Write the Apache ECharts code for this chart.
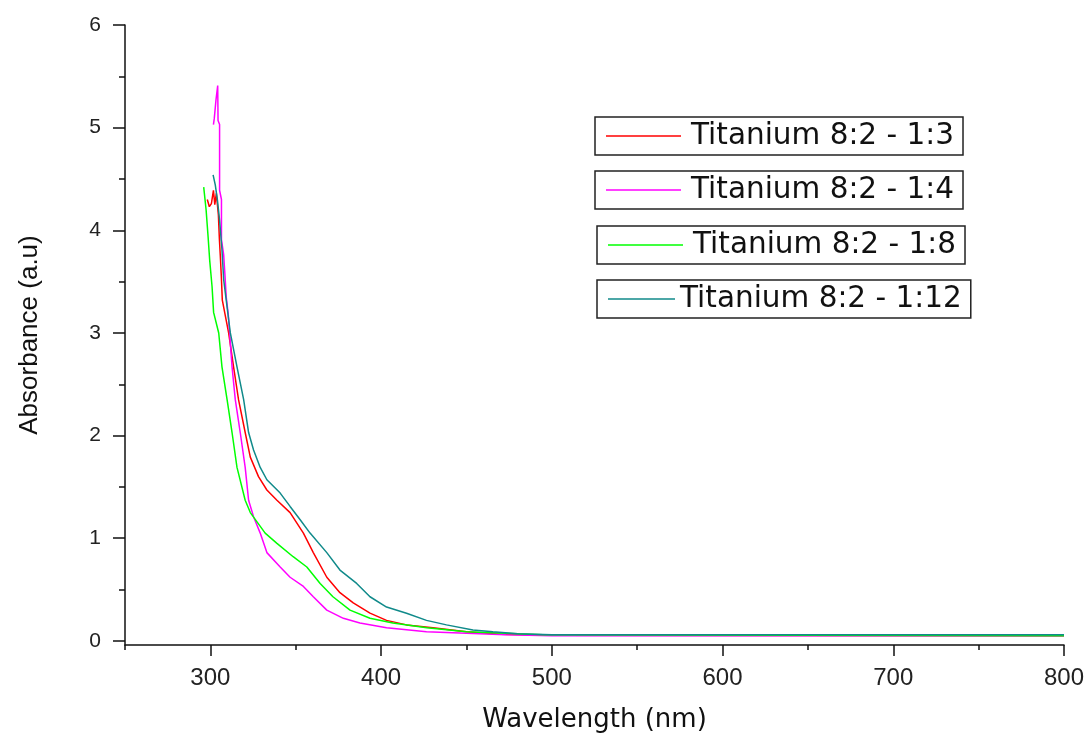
<!DOCTYPE html>
<html>
<head>
<meta charset="utf-8">
<script src="https://cdn.jsdelivr.net/npm/echarts@6/dist/echarts.min.js"></script>
<style>
  html, body { margin: 0; padding: 0; background: #fff; }
  #chart { width: 1087px; height: 738px; }
</style>
</head>
<body>
<div id="chart"></div>
<script>
// absorbance spectra
const seriesNames = ['Titanium 8:2 - 1:3', 'Titanium 8:2 - 1:4', 'Titanium 8:2 - 1:8', 'Titanium 8:2 - 1:12'];
const seriesColors = ['#ff0000', '#ff00ff', '#00ff00', '#108a8a'];

const wlRed = [298.2, 299.4, 300.6, 301.8, 302.6, 303.5, 304.7, 305.3, 305.8, 306.4, 307.0, 310.7, 313.6, 316.5, 320.4, 323.4, 328.2, 333.1, 339.0, 346.7, 354.5, 360.3, 368.2, 375.9, 383.7, 393.5, 403.2, 414.9, 430.4, 450, 470, 500, 800];
const absRed = [4.30, 4.23, 4.26, 4.39, 4.25, 4.36, 4.15, 3.91, 3.76, 3.56, 3.32, 3.00, 2.67, 2.35, 2.03, 1.79, 1.60, 1.47, 1.37, 1.25, 1.05, 0.86, 0.62, 0.47, 0.37, 0.27, 0.20, 0.156, 0.127, 0.088, 0.065, 0.055, 0.05];

const wlMagenta = [301.8, 302.3, 303.3, 304.3, 304.5, 305.4, 305.4, 306.5, 306.5, 307.8, 308.6, 309.3, 310.5, 312.7, 314.6, 317.5, 320.4, 322.4, 325.3, 329.2, 333.1, 340.9, 346.7, 354.5, 360.3, 368.2, 377.9, 387.6, 403.2, 426.6, 450, 473, 500, 800];
const absMagenta = [5.03, 5.09, 5.27, 5.41, 5.07, 5.03, 4.39, 4.30, 3.91, 3.76, 3.55, 3.35, 3.18, 2.67, 2.35, 2.03, 1.69, 1.37, 1.21, 1.05, 0.86, 0.72, 0.62, 0.53, 0.43, 0.30, 0.22, 0.175, 0.127, 0.088, 0.075, 0.06, 0.05, 0.05];

const wlGreen = [296.1, 297.5, 298.7, 299.6, 301.0, 301.9, 304.9, 306.8, 309.8, 312.7, 315.6, 320.4, 323.4, 332.1, 339.0, 348.5, 356.5, 364.3, 371.8, 381.8, 393.5, 406.9, 426.8, 450.1, 495, 800];
const absGreen = [4.42, 4.20, 3.93, 3.71, 3.45, 3.20, 3.00, 2.67, 2.35, 2.03, 1.69, 1.37, 1.25, 1.05, 0.95, 0.82, 0.72, 0.56, 0.43, 0.30, 0.22, 0.175, 0.127, 0.088, 0.06, 0.05];

const wlTeal = [301.6, 302.9, 304.1, 305.4, 306.8, 307.8, 309.3, 310.7, 311.7, 315.6, 319.5, 322.4, 325.3, 329.2, 333.1, 340.9, 346.7, 352.6, 358.4, 368.2, 375.9, 385.7, 393.5, 403.2, 414.9, 426.6, 438.3, 453.8, 465.5, 480, 500, 800];
const absTeal = [4.54, 4.44, 4.30, 4.10, 3.81, 3.52, 3.32, 3.13, 3.00, 2.67, 2.35, 2.03, 1.86, 1.69, 1.57, 1.44, 1.31, 1.18, 1.05, 0.86, 0.69, 0.56, 0.43, 0.33, 0.27, 0.20, 0.156, 0.107, 0.088, 0.07, 0.06, 0.06];

const xMajorTicks = [300, 400, 500, 600, 700, 800];
const xMinorTicks = [250, 350, 450, 550, 650, 750];
const yMajorTicks = [0, 1, 2, 3, 4, 5, 6];
const yMinorTicks = [0.5, 1.5, 2.5, 3.5, 4.5, 5.5];

const allWl = [wlRed, wlMagenta, wlGreen, wlTeal];
const allAbs = [absRed, absMagenta, absGreen, absTeal];

function pairs(xs, ys) {
  return xs.map((x, i) => [x, ys[i]]);
}

const chart = echarts.init(document.getElementById('chart'), null, { renderer: 'canvas' });

const arialFont = "'Liberation Sans', Arial, sans-serif";
const axisColor = '#111';

// one boxed legend per series, stacked down the right side
const legendBoxes = [
  { left: 595, top: 117 },
  { left: 595, top: 171 },
  { left: 597, top: 226 },
  { left: 597, top: 280 }
];

const option = {
  backgroundColor: '#fff',
  animation: false,
  grid: { left: 125, right: 22, top: 25, bottom: 93 },
  legend: legendBoxes.map((b, i) => ({
    data: [seriesNames[i]],
    left: b.left,
    top: b.top,
    orient: 'horizontal',
    borderColor: '#222',
    borderWidth: 1.5,
    padding: [4, 9, 4, 11],
    icon: 'rect',
    itemWidth: i === 3 ? 67 : 75,
    itemHeight: 1.5,
    selectedMode: false,
    textStyle: {
      fontFamily: "'DejaVu Sans', sans-serif",
      fontSize: 29.5,
      color: '#111',
      padding: [0, 0, 0, i === 3 ? 0 : 5]
    }
  })),
  xAxis: [
    {
      type: 'value',
      min: 250,
      max: 800,
      axisLine: { onZero: false, lineStyle: { color: axisColor, width: 1.5 } },
      axisTick: { customValues: xMajorTicks, length: 11, lineStyle: { color: axisColor, width: 1.5 } },
      axisLabel: { customValues: xMajorTicks, margin: 21, fontFamily: arialFont, fontSize: 24, color: '#222' },
      splitLine: { show: false },
      name: 'Wavelength (nm)',
      nameLocation: 'middle',
      nameGap: 62,
      nameTextStyle: { fontFamily: "'DejaVu Sans', sans-serif", fontSize: 26, color: '#111' }
    },
    {
      type: 'value',
      min: 250,
      max: 800,
      position: 'bottom',
      axisLine: { show: false, onZero: false },
      axisTick: { customValues: xMinorTicks, length: 5, lineStyle: { color: axisColor, width: 1.5 } },
      axisLabel: { show: false },
      splitLine: { show: false }
    }
  ],
  yAxis: [
    {
      type: 'value',
      min: -0.04,
      max: 6,
      axisLine: { show: true, onZero: false, lineStyle: { color: axisColor, width: 1.5 } },
      axisTick: { show: true, customValues: yMajorTicks, length: 12, lineStyle: { color: axisColor, width: 1.5 } },
      axisLabel: { customValues: yMajorTicks, margin: 24, fontFamily: arialFont, fontSize: 21, color: '#222' },
      splitLine: { show: false },
      name: 'Absorbance (a.u)',
      nameLocation: 'middle',
      nameGap: 82,
      nameTextStyle: { fontFamily: arialFont, fontSize: 26, color: '#111' }
    },
    {
      type: 'value',
      min: -0.04,
      max: 6,
      position: 'left',
      axisLine: { show: false, onZero: false },
      axisTick: { show: true, customValues: yMinorTicks, length: 6, lineStyle: { color: axisColor, width: 1.5 } },
      axisLabel: { show: false },
      splitLine: { show: false }
    }
  ],
  series: seriesNames.map((name, i) => ({
    name: name,
    type: 'line',
    symbol: 'none',
    data: pairs(allWl[i], allAbs[i]),
    lineStyle: { color: seriesColors[i], width: 1.5 },
    itemStyle: { color: seriesColors[i] },
    z: 2 + i
  }))
};

chart.setOption(option);
</script>
</body>
</html>
